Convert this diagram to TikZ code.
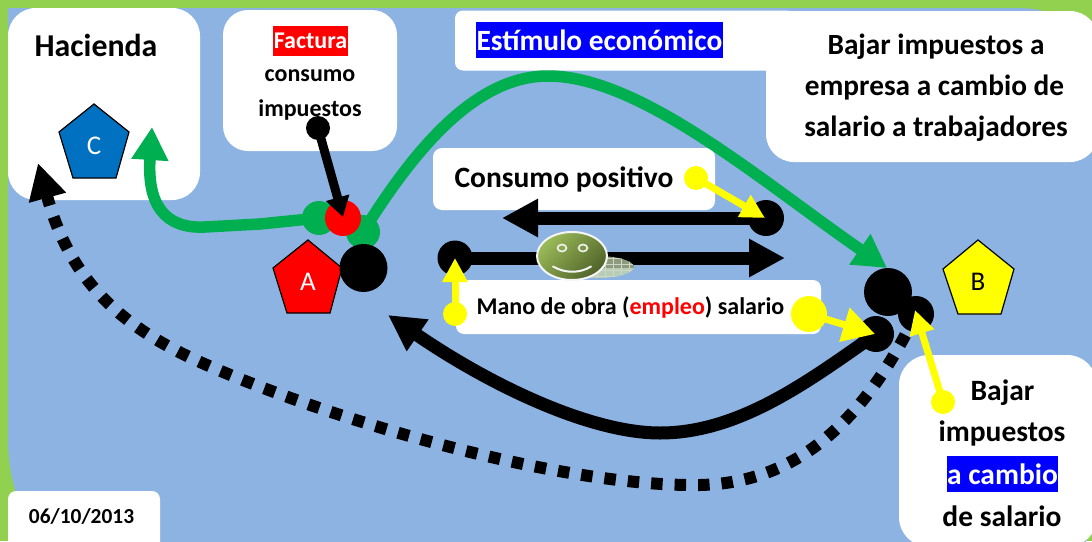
\documentclass[tikz,border=0pt]{standalone}
\usepackage{fontspec}
\setmainfont{Carlito}
\usetikzlibrary{arrows.meta,shadings,shapes.geometric}
\definecolor{bgblue}{RGB}{141,179,226}
\definecolor{bggreen}{RGB}{146,208,80}
\definecolor{arrowgreen}{RGB}{0,176,80}
\definecolor{pentblue}{RGB}{0,112,192}
\definecolor{hlblue}{RGB}{0,0,255}
\definecolor{yel}{RGB}{255,255,0}
\definecolor{hlred}{RGB}{255,0,0}
\definecolor{smileL}{RGB}{155,187,89}
\definecolor{smileD}{RGB}{79,98,40}
\definecolor{shadowG}{RGB}{142,154,126}
\definecolor{shadowL}{RGB}{184,205,184}
\definecolor{gridline}{RGB}{205,215,195}
\tikzset{
  x=1pt,y=-1pt,
  whitebox/.style={fill=white,draw=none,inner sep=0pt},
  disc/.style={circle,inner sep=0pt,draw=none},
  blackdisc/.style={disc,fill=black},
  yellowdisc/.style={disc,fill=yel},
  greendisc/.style={disc,fill=arrowgreen},
  penta/.style={draw=black,line width=1.2pt,line join=miter},
  plabel/.style={inner sep=0pt,font=\fontsize{27}{27}\selectfont},
  lab/.style={inner sep=0pt,align=center,font=\fontsize{#1}{#1}\selectfont\bfseries},
  hl/.style={inner sep=0pt,text=white,font=\fontsize{#1}{#1}\selectfont\bfseries},
  blackline/.style={draw=black,line width=13pt},
  greenline/.style={draw=arrowgreen,line width=11.5pt},
  yellowline/.style={draw=yel,line width=7pt},
  thintip/.style={-{Triangle[length=20pt,width=23pt]}},
  widetip/.style={-{Triangle[length=36pt,width=36pt]}},
  greentip/.style={-{Triangle[length=33pt,width=35pt]}},
  yellowtip/.style={-{Triangle[length=24pt,width=24pt]}},
  yellowbig/.style={-{Triangle[length=32pt,width=34pt]}},
}
\begin{document}
\begin{tikzpicture}
\useasboundingbox (0,0) rectangle (1092,541);
\clip (0,0) rectangle (1092,541);
\fill[bggreen] (0,0) rectangle (1092,541);
\fill[bgblue] (8,8) -- (1020,8) .. controls (1060,9) and (1096,30) .. (1096,70) -- (1096,504)
   .. controls (1096,540) and (1075,566) .. (1034,566) -- (60,566) .. controls (30,540) and (8,490) .. (8,440) -- cycle;

% white boxes
\node[whitebox,rounded corners=28pt,minimum width=192pt,minimum height=192pt] (hacbox) at (104,104) {};
\node[whitebox,rounded corners=25pt,minimum width=174pt,minimum height=141pt] (facbox) at (310,80.5) {};
\node[whitebox,rounded corners=8pt,minimum width=340pt,minimum height=60pt] (estbox) at (625,40.5) {};
\node[whitebox,rounded corners=28pt,minimum width=332pt,minimum height=151pt] (bajbox) at (932,86.5) {};
\node[whitebox,rounded corners=9pt,minimum width=282pt,minimum height=62pt] (conbox) at (574,179) {};
\node[whitebox,rounded corners=8pt,minimum width=365pt,minimum height=54pt] (manbox) at (638.5,307) {};
\node[whitebox,rounded corners=8pt,minimum width=152pt,minimum height=70pt] (datbox) at (84,526) {};
\node[whitebox,rounded corners=30pt,minimum width=198pt,minimum height=192pt] (cambox) at (998,451) {};

% texts
\node[lab=31.8] (hacienda) at (96,45) {Hacienda};
\node[hl=24,fill=hlred,minimum width=75pt,minimum height=30pt] (factura) at (310.5,41) {Factura};
\node[lab=24] (consumo) at (310,76) {consumo};
\node[lab=24] (impuestos) at (310,110) {impuestos};
\node[hl=29.4,fill=hlblue,minimum width=247pt,minimum height=36pt] (estimulo) at (599.5,40) {Estímulo económico};
\node[lab=29.3] (b1) at (936,47) {Bajar impuestos a};
\node[lab=29.3] (b2) at (934.5,88) {empresa a cambio de};
\node[lab=29.3] (b3) at (936,129) {salario a trabajadores};
\node[lab=29.5] (conpos) at (564,179) {Consumo positivo};
\node[lab=24] (mano) at (630.5,307) {Mano de obra (\textcolor{hlred}{empleo}) salario};
\node[lab=21.4] (fecha) at (81.5,516) {06/10/2013};
\node[lab=29.5] (c1) at (1002.5,393) {Bajar};
\node[lab=29.5] (c2) at (1002,433) {impuestos};
\node[hl=29.5,fill=hlblue,minimum width=111pt,minimum height=36pt] (c3) at (1002.5,474) {a cambio};
\node[lab=29.5] (c4) at (1002,516) {de salario};

% pentagons
\draw[penta,fill=pentblue] (94,104) -- (129,132) -- (116,178) -- (73,178) -- (59,132) -- cycle;
\node[plabel,text=white] (cl) at (94,146) {C};
\draw[penta,fill=hlred] (308,240) -- (342,268) -- (330,313) -- (287,313) -- (273,268) -- cycle;
\node[plabel,text=white] (al) at (308,282) {A};
\draw[penta,fill=yel] (978,240) -- (1014,269) -- (1001,314) -- (958,314) -- (943,269) -- cycle;
\node[plabel,text=black] (bl) at (978,282) {B};

% discs
\node[greendisc,minimum size=34pt] (gl) at (319,218) {};
\node[greendisc,minimum size=34pt] (gr) at (363,232) {};
\node[disc,fill=hlred,minimum size=36pt] (rd) at (343,218) {};
\node[blackdisc,minimum size=48pt] (ka) at (363.5,268) {};
\node[blackdisc,minimum size=24pt] (kf) at (318,128) {};
\node[blackdisc,minimum size=35pt] (kl) at (455,258) {};
\node[blackdisc,minimum size=36pt] (kc) at (766,218) {};
\node[blackdisc,minimum size=36pt] (kb) at (916,314) {};
\node[blackdisc,minimum size=48pt] (kg) at (888,292) {};
\node[blackdisc,minimum size=36pt] (ks) at (876,334) {};
\node[yellowdisc,minimum size=24pt] (y1) at (696,178) {};
\node[yellowdisc,minimum size=24pt] (y2) at (455,314) {};
\node[yellowdisc,minimum size=36pt] (y3) at (809,314) {};
\node[yellowdisc,minimum size=24pt] (y4) at (943,402) {};

% free ends
\coordinate (tipg1) at (887,268);
\coordinate (tipg2) at (152,127);
\coordinate (tipk1) at (388,315);
\coordinate (tipk2) at (38,163);
\coordinate (tipk3) at (785,258);
\coordinate (tipk4) at (502,218);
\coordinate (tipk5) at (343,217);
\coordinate (tipy1) at (765,218);
\coordinate (tipy2) at (455,258);
\coordinate (tipy3) at (875,334);
\coordinate (tipy4) at (915,310);

% green arrows
\draw[greenline,greentip] (gr.center) .. controls (420,140) and (480,76) .. (548,76)
   .. controls (640,76) and (760,180) .. (tipg1);
\draw[greenline,greentip] (gl.center) -- (260,224) -- (205,227) .. controls (165,229) and (147,205) .. (tipg2);

% black arrows
\draw[blackline,widetip] (ks.center) .. controls (810,380) and (740,433) .. (660,433)
   .. controls (590,433) and (490,385) .. (tipk1);
\draw[draw=black,line width=12pt,dash pattern=on 11.5pt off 12pt,-{Triangle[length=36pt,width=36pt]}]
   (kb.center) .. controls (860,430) and (790,483) .. (700,485)
   .. controls (560,487) and (330,420) .. (200,362)
   .. controls (120,326) and (70,280) .. (tipk2);
\draw[blackline,widetip] (kl.center) -- (tipk3);
\draw[blackline,widetip] (kc.center) -- (tipk4);
\draw[draw=black,line width=9pt,thintip] (kf.center) -- (tipk5);

% smiley with its shadow
\begin{scope}
  \clip (597,267) ellipse [x radius=37,y radius=11];
  \fill[shadowG] (555,250) rectangle (640,268);
  \fill[shadowL] (555,268) rectangle (640,285);
  \foreach \g in {565,573,...,635} \draw[gridline,line width=.4pt] (\g,250) -- (\g,285);
  \foreach \g in {258,264,...,280} \draw[gridline,line width=.4pt] (555,\g) -- (640,\g);
\end{scope}
\node[ellipse,minimum width=70pt,minimum height=48pt,inner sep=0pt,draw=white!92!gray,line width=2pt,
   top color=smileL,bottom color=smileD,shading angle=45] (smile) at (572,256) {};
\draw[white!90!gray,line width=1.6pt,fill=smileL!80!smileD] (562,248) ellipse [x radius=4.5,y radius=3.5];
\draw[white!90!gray,line width=1.6pt,fill=smileL!60!smileD] (583,248) ellipse [x radius=4.5,y radius=3.5];
\draw[white!92!gray,line width=2pt,line cap=round] (553,266.5) .. controls (565,273.5) and (580,273.5) .. (591,266.5);

% yellow arrows
\draw[yellowline,yellowtip] (y1.center) -- (tipy1);
\draw[yellowline,yellowtip] (y2.center) -- (tipy2);
\draw[yellowline,yellowbig] (y3.center) -- (tipy3);
\draw[yellowline,yellowtip] (y4.center) -- (tipy4);
\end{tikzpicture}
\end{document}
